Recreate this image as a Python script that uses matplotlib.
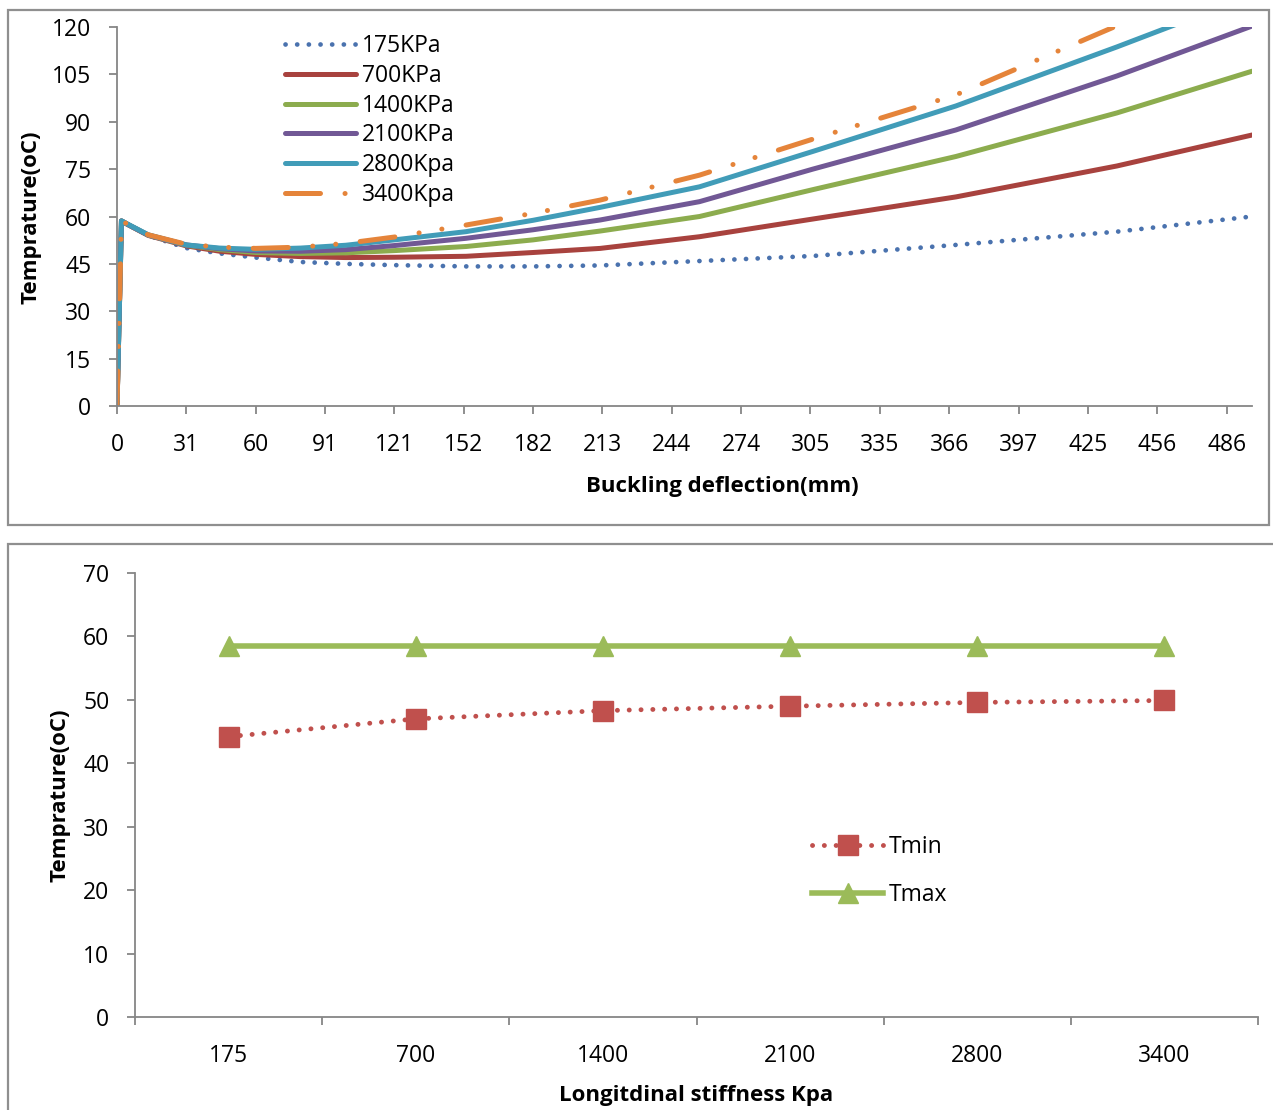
import numpy as np
import matplotlib
matplotlib.use('Agg')
import matplotlib.pyplot as plt
from matplotlib.patches import Rectangle

plt.rcParams['font.family'] = ['Open Sans', 'DejaVu Sans']

# --- top chart: temperature vs buckling deflection ---
tick_mm = [0, 31, 60, 91, 121, 152, 182, 213, 244, 274, 305, 335, 366, 397, 425, 456, 486]
defl_mm = [0, 2, 5, 14, 31, 45, 60, 80, 100, 121, 153, 182, 212, 256, 306, 369, 438, 497]
t_175 = [0, 58.6, 57.4, 54.0, 50.0, 48.3, 47.0, 45.6, 45.0, 44.6, 44.2, 44.2, 44.5, 45.9, 47.5, 51.0, 55.2, 60.0]
t_700 = [0, 58.6, 57.4, 54.0, 50.7, 49.0, 48.0, 47.3, 47.0, 47.1, 47.4, 48.6, 49.9, 53.6, 59.2, 66.2, 76.0, 85.8]
t_1400 = [0, 58.6, 57.4, 54.1, 50.9, 49.5, 48.6, 48.3, 48.5, 49.2, 50.5, 52.6, 55.4, 60.0, 68.5, 79.0, 92.8, 106.0]
t_2100 = [0, 58.6, 57.4, 54.1, 51.0, 49.8, 49.1, 49.0, 49.5, 50.8, 53.1, 55.8, 58.9, 64.7, 75.0, 87.4, 104.5, 120.3]
t_2800 = [0, 58.6, 57.5, 54.2, 51.0, 50.0, 49.6, 50.0, 50.9, 52.6, 55.2, 58.8, 62.9, 69.4, 80.6, 95.0, 113.7, 130.0]
t_3400 = [0, 58.6, 57.5, 54.2, 51.2, 50.3, 49.9, 50.3, 51.5, 53.5, 57.3, 61.0, 65.2, 73.1, 84.5, 98.5, 120.4, 139.0]
series_labels = ['175KPa', '700KPa', '1400KPa', '2100KPa', '2800Kpa', '3400Kpa']

# --- bottom chart: Tmin / Tmax vs stiffness ---
stiffness = ['175', '700', '1400', '2100', '2800', '3400']
t_min = [44.2, 47.0, 48.3, 49.0, 49.6, 49.9]
t_max = [58.5, 58.5, 58.5, 58.5, 58.5, 58.5]

W, H = 1273, 1110


def px_box(l, t, r, b):
    return [l / W, 1 - b / H, (r - l) / W, (b - t) / H]


fig = plt.figure(figsize=(W / 100, H / 100), dpi=100)

# panel borders
fig.add_artist(Rectangle((8 / W, 1 - 525 / H), 1261 / W, 515 / H, transform=fig.transFigure,
                         fill=False, ec='#8f8f8f', lw=1.6))
fig.add_artist(Rectangle((8 / W, 1 - 1125 / H), 1290 / W, 581 / H, transform=fig.transFigure,
                         fill=False, ec='#8f8f8f', lw=1.6))

ax1 = fig.add_axes(px_box(117, 27, 1252, 406))
ax2 = fig.add_axes(px_box(135, 573, 1258, 1017))

for ax in (ax1, ax2):
    ax.spines[['top', 'right']].set_visible(False)
    for s in ['left', 'bottom']:
        ax.spines[s].set_color('#868686')
        ax.spines[s].set_linewidth(1.3)
    ax.tick_params(direction='out', length=6, width=1.3, color='#868686', labelsize=16.5)
    ax.tick_params(axis='y', pad=12.5)

# category positions for the deflection labels (equally spaced in Excel)
pos_ref = tick_mm + [516]
x_pos = np.interp(defl_mm, pos_ref, np.arange(len(pos_ref)))

ax1.plot(x_pos, t_175, color='#4A72AE', lw=3.4, dashes=(0.02, 2.45), dash_capstyle='round',
         label=series_labels[0])
solid = dict(lw=3.6, solid_capstyle='round', solid_joinstyle='round')
ax1.plot(x_pos, t_700, color='#A8423E', label=series_labels[1], **solid)
ax1.plot(x_pos, t_1400, color='#8CAC4E', label=series_labels[2], **solid)
ax1.plot(x_pos, t_2100, color='#715895', label=series_labels[3], **solid)
ax1.plot(x_pos, t_2800, color='#419CB8', label=series_labels[4], **solid)
ax1.plot(x_pos, t_3400, color='#E5843A', lw=3.6, dashes=(7.0, 4.9, 0.02, 4.6, 0.02, 4.9),
         dash_capstyle='round', label=series_labels[5])

ax1.set_xlim(0, np.interp(defl_mm[-1], pos_ref, np.arange(len(pos_ref))))
ax1.set_ylim(0, 120)
ax1.set_yticks(np.arange(0, 121, 15))
ax1.set_xticks(np.arange(len(tick_mm)))
ax1.set_xticklabels([str(v) for v in tick_mm])
ax1.tick_params(axis='x', pad=13.5)
ax1.set_xlabel('Buckling deflection(mm)', fontsize=16, fontweight='bold', va='center')
ax1.xaxis.set_label_coords(0.533, -0.213)
ax1.set_ylabel('Temprature(oC)', fontsize=16, fontweight='bold', va='center')
ax1.yaxis.set_label_coords(-0.076, 0.499)
ax1.legend(loc='upper left', bbox_to_anchor=(0.148, 0.981), frameon=False, fontsize=16.5,
           handlelength=3.1, handletextpad=0.26, labelspacing=0.25, borderpad=0, borderaxespad=0)

xs = np.arange(len(stiffness))
ax2.plot(xs, t_min, color='#C0504D', lw=3.5, dashes=(0.02, 2.41), dash_capstyle='round',
         marker='s', ms=14, mfc='#C0504D', mec='#C0504D', label='Tmin')
ax2.plot(xs, t_max, color='#9BBB59', lw=4, marker='^', ms=15, mfc='#9BBB59', mec='#9BBB59',
         label='Tmax')
ax2.set_xlim(-0.5, len(stiffness) - 0.5)
ax2.set_ylim(0, 70)
ax2.set_yticks(np.arange(0, 71, 10))
ax2.set_xticks(np.arange(-0.5, len(stiffness)))
ax2.set_xticklabels([])
ax2.set_xticks(xs, minor=True)
ax2.set_xticklabels(stiffness, minor=True)
ax2.tick_params(axis='x', which='minor', length=0, pad=19.5, labelsize=16.5)
ax2.set_xlabel('Longitdinal stiffness Kpa', fontsize=16, fontweight='bold', va='center')
ax2.xaxis.set_label_coords(0.4996, -0.177)
ax2.set_ylabel('Temprature(oC)', fontsize=16, fontweight='bold', va='center')
ax2.yaxis.set_label_coords(-0.067, 0.5)
ax2.legend(loc='upper left', bbox_to_anchor=(0.603, 0.410), frameon=False, fontsize=16.5,
           handlelength=3.1, handletextpad=0.26, labelspacing=1.06, borderpad=0, borderaxespad=0,
           numpoints=1)

fig.savefig('out.png', dpi=100)
